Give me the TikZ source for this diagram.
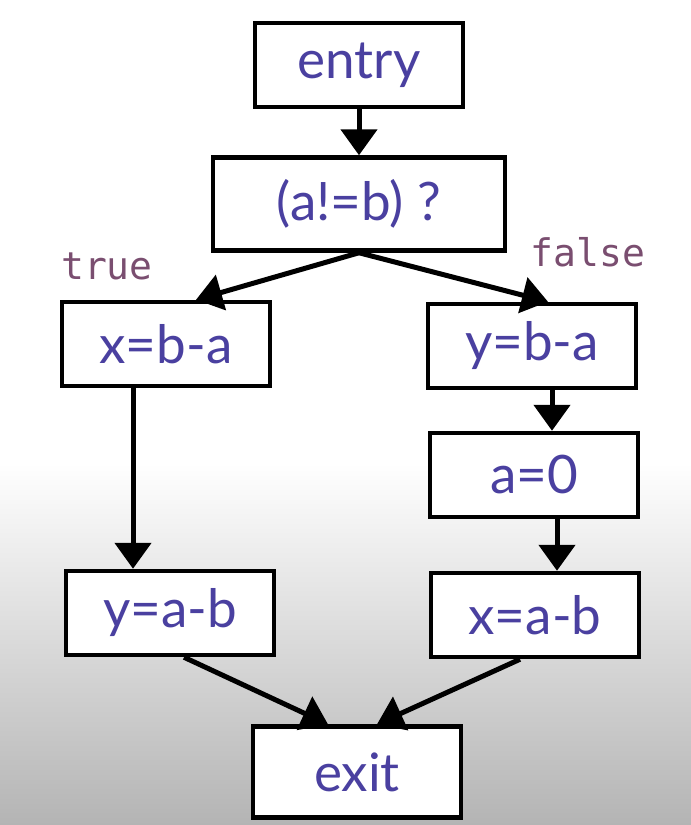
\documentclass[tikz,border=0pt]{standalone}
\usepackage{fontspec}
\setmainfont{Lato}
\newfontfamily\labelfont{DejaVu Sans Mono}
\usetikzlibrary{arrows.meta}
\definecolor{txtblue}{HTML}{4A40A0}
\definecolor{lblpurple}{HTML}{7A4E70}
\definecolor{bggray}{HTML}{B4B4B4}
\begin{document}
\begin{tikzpicture}[x=1pt,y=-1pt,
  blk/.style={draw=black, line width=4.5pt, fill=white, text=txtblue,
    minimum width=208pt, minimum height=84pt, inner sep=0pt,
    font=\fontsize{53}{56}\selectfont},
  lbl/.style={text=lblpurple, font=\labelfont\fontsize{38}{40}\selectfont, inner sep=0pt},
  arr/.style={draw=black, line width=5pt,
    -{Triangle[width=36pt,length=26pt]}},
]
\useasboundingbox (0,0) rectangle (691,825);
\fill[white] (0,0) rectangle (691,463);
\shade[top color=white, bottom color=bggray] (0,463) rectangle (691,825);

\node[blk] (entry) at (359,65) {entry};
\node[blk, minimum width=292pt, minimum height=93pt] (cond) at (359,204) {(a!=b) ?};
\node[blk] (xba) at (166,344) {x=b-a};
\node[blk] (yba) at (532,346) {y=b-a};
\node[blk] (a0) at (534,475) {a=0};
\node[blk] (yab) at (170,613) {y=a-b};
\node[blk] (xab) at (535,615) {x=a-b};
\node[blk, minimum height=91pt] (exit) at (357,772) {exit};

\node[lbl] (ltrue) at (107,266) {true};
\node[lbl] (lfalse) at (588,252) {false};

\draw[arr] (entry.south) -- (cond.north);
\draw[arr] (cond.south) -- ([xshift=30pt]xba.north);
\draw[arr] (cond.south) -- ([xshift=16pt]yba.north);
\draw[arr] ([xshift=-33pt]xba.south) -- ([xshift=-33pt]xba.south |- yab.north);
\draw[arr] ([xshift=20pt]yba.south) -- ([xshift=20pt]yba.south |- a0.north);
\draw[arr] ([xshift=23pt]a0.south) -- ([xshift=23pt]a0.south |- xab.north);
\draw[arr] ([xshift=14pt]yab.south) -- ([xshift=-29pt]exit.north);
\draw[arr] ([xshift=-15pt]xab.south) -- ([xshift=20pt]exit.north);
\end{tikzpicture}
\end{document}
